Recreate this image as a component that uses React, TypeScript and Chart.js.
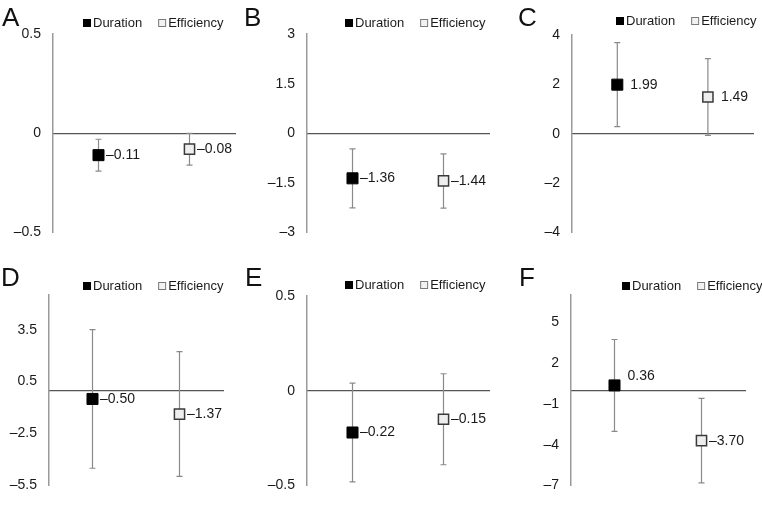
import React, { useEffect, useRef } from 'react';
import { Chart, registerables } from 'chart.js';

Chart.register(...registerables);

// ---- data ----
const panelLetters = ['A', 'B', 'C', 'D', 'E', 'F'];
const seriesNames = ['Duration', 'Efficiency'];
const durationValues = [-0.11, -1.36, 1.99, -0.5, -0.22, 0.36];
const efficiencyValues = [-0.08, -1.44, 1.49, -1.37, -0.15, -3.7];
const durationErrors = [0.08, 0.89, 1.7, 4.0, 0.26, 3.37];
const efficiencyErrors = [0.08, 0.82, 1.55, 3.6, 0.24, 3.1];
const yMins = [-0.5, -3, -4, -5.5, -0.5, -7];
const yMaxs = [0.5, 3, 4, 5.5, 0.5, 7];
const yTicks = [
  [-0.5, 0, 0.5],
  [-3, -1.5, 0, 1.5, 3],
  [-4, -2, 0, 2, 4],
  [-5.5, -2.5, 0.5, 3.5],
  [-0.5, 0, 0.5],
  [-7, -4, -1, 2, 5],
];

// ---- layout / style ----
const FONT = "'Liberation Sans', Arial, Helvetica, sans-serif";
const CW = 254;
const CH = 253;
const layouts = [
  { col: 0, row: 0, left: 53, top: 34, right: 235, bottom: 237, legendX: 83, legendY: 23, labelDy: [0, 0], letterX: 2, letterY: 4 },
  { col: 1, row: 0, left: 53, top: 34, right: 235, bottom: 237, legendX: 91, legendY: 23, labelDy: [0, 0], letterX: 244, letterY: 4 },
  { col: 2, row: 0, left: 64, top: 35, right: 254, bottom: 246, legendX: 108, legendY: 21, labelDy: [0, 0], letterX: 518, letterY: 4 },
  { col: 0, row: 1, left: 49, top: 42, right: 223, bottom: 246, legendX: 83, legendY: 33, labelDy: [0, 0], letterX: 1, letterY: 264 },
  { col: 1, row: 1, left: 53, top: 43, right: 235, bottom: 246, legendX: 91, legendY: 32, labelDy: [0, 0], letterX: 245, letterY: 264 },
  { col: 2, row: 1, left: 63, top: 42, right: 237, bottom: 245, legendX: 114, legendY: 33, labelDy: [-9, 0], letterX: 519, letterY: 264 },
];

const fmt = (v: number, digits?: number) => {
  const s = digits === undefined ? String(Math.abs(v)) : Math.abs(v).toFixed(digits);
  return v < 0 ? '\u2013' + s : s;
};

const panelPlugin = {
  id: 'panelDecor',
  beforeDatasetsDraw(chart: any, _args: any, opts: any) {
    const { ctx } = chart;
    const x = chart.scales.x;
    const y = chart.scales.y;
    ctx.save();
    ctx.strokeStyle = '#8a8a8a';
    ctx.lineWidth = 1.2;
    chart.data.datasets.forEach((ds: any, i: number) => {
      const p = ds.data[0];
      const err = opts.errors[i];
      const px = x.getPixelForValue(p.x);
      const yt = y.getPixelForValue(p.y + err);
      const yb = y.getPixelForValue(p.y - err);
      ctx.beginPath();
      ctx.moveTo(px, yt);
      ctx.lineTo(px, yb);
      ctx.moveTo(px - 3, yt);
      ctx.lineTo(px + 3, yt);
      ctx.moveTo(px - 3, yb);
      ctx.lineTo(px + 3, yb);
      ctx.stroke();
    });
    ctx.restore();
  },
  afterDatasetsDraw(chart: any, _args: any, opts: any) {
    const { ctx } = chart;
    const x = chart.scales.x;
    const y = chart.scales.y;
    ctx.save();
    ctx.font = `14px ${FONT}`;
    ctx.fillStyle = '#1a1a1a';
    ctx.textAlign = 'left';
    ctx.textBaseline = 'middle';
    chart.data.datasets.forEach((ds: any, i: number) => {
      const p = ds.data[0];
      const px = x.getPixelForValue(p.x);
      const py = y.getPixelForValue(p.y);
      const gap = p.y < 0 ? 7.5 : 13;
      ctx.fillText(fmt(p.y, 2), px + gap, py + opts.labelDy[i]);
    });
    // legend
    ctx.font = `13px ${FONT}`;
    let lx = opts.legendX;
    const ly = opts.legendY;
    chart.data.datasets.forEach((ds: any, i: number) => {
      if (i === 0) {
        ctx.fillStyle = '#000';
        ctx.fillRect(lx, ly - 4, 8, 8);
      } else {
        ctx.fillStyle = '#f2f2f2';
        ctx.fillRect(lx, ly - 4, 8, 8);
        ctx.strokeStyle = '#7a7a7a';
        ctx.lineWidth = 1;
        ctx.strokeRect(lx + 0.5, ly - 3.5, 7, 7);
      }
      ctx.fillStyle = '#1a1a1a';
      ctx.fillText(ds.label, lx + 10, ly);
      lx += 10 + ctx.measureText(ds.label).width + 16;
    });
    ctx.restore();
  },
};

function Panel({ index }: { index: number }) {
  const ref = useRef<HTMLCanvasElement>(null);
  useEffect(() => {
    const L = layouts[index];
    const chart = new Chart(ref.current as HTMLCanvasElement, {
      type: 'scatter',
      data: {
        datasets: [
          {
            label: seriesNames[0],
            data: [{ x: 0.5, y: durationValues[index] }],
            pointStyle: 'rect',
            pointRadius: 7.8,
            backgroundColor: '#000000',
            borderColor: '#000000',
            borderWidth: 1,
          },
          {
            label: seriesNames[1],
            data: [{ x: 1.5, y: efficiencyValues[index] }],
            pointStyle: 'rect',
            pointRadius: 7.2,
            backgroundColor: '#eeeeee',
            borderColor: '#3a3a3a',
            borderWidth: 1.5,
          },
        ],
      },
      options: {
        responsive: false,
        animation: false,
        events: [],
        layout: { padding: { left: 0, top: L.top, right: CW - L.right, bottom: CH - L.bottom } },
        scales: {
          x: {
            type: 'linear',
            min: 0,
            max: 2,
            position: { y: 0 } as any,
            grid: { display: false, drawTicks: false },
            ticks: { display: false },
            border: { display: true, color: '#555555', width: 1.3 },
          },
          y: {
            type: 'linear',
            min: yMins[index],
            max: yMaxs[index],
            afterBuildTicks: (s: any) => {
              s.ticks = yTicks[index].map((v) => ({ value: v }));
            },
            afterFit: (s: any) => {
              s.width = L.left;
            },
            grid: { display: false, drawTicks: false },
            border: { display: true, color: '#9a9a9a', width: 1.5 },
            ticks: {
              padding: 12,
              color: '#1a1a1a',
              font: { family: FONT, size: 14 },
              callback: (v: any) => fmt(Number(v)),
            },
          },
        },
        plugins: {
          legend: { display: false },
          tooltip: { enabled: false },
          panelDecor: {
            errors: [durationErrors[index], efficiencyErrors[index]],
            labelDy: L.labelDy,
            legendX: L.legendX,
            legendY: L.legendY,
          },
        } as any,
      },
      plugins: [panelPlugin as any],
    });
    return () => chart.destroy();
  }, [index]);
  const L = layouts[index];
  return (
    <canvas
      ref={ref}
      width={CW}
      height={CH}
      style={{ position: 'absolute', left: L.col * CW, top: L.row * CH, width: CW, height: CH }}
    />
  );
}

export default function App() {
  return (
    <div style={{ position: 'absolute', left: 0, top: 0, width: 762, height: 506, background: '#fff', overflow: 'hidden' }}>
      {panelLetters.map((_, i) => (
        <Panel key={i} index={i} />
      ))}
      {panelLetters.map((letter, i) => (
        <div
          key={'l' + i}
          style={{
            position: 'absolute',
            left: layouts[i].letterX,
            top: layouts[i].letterY,
            font: `26px/26px ${FONT}`,
            color: '#111',
          }}
        >
          {letter}
        </div>
      ))}
    </div>
  );
}
